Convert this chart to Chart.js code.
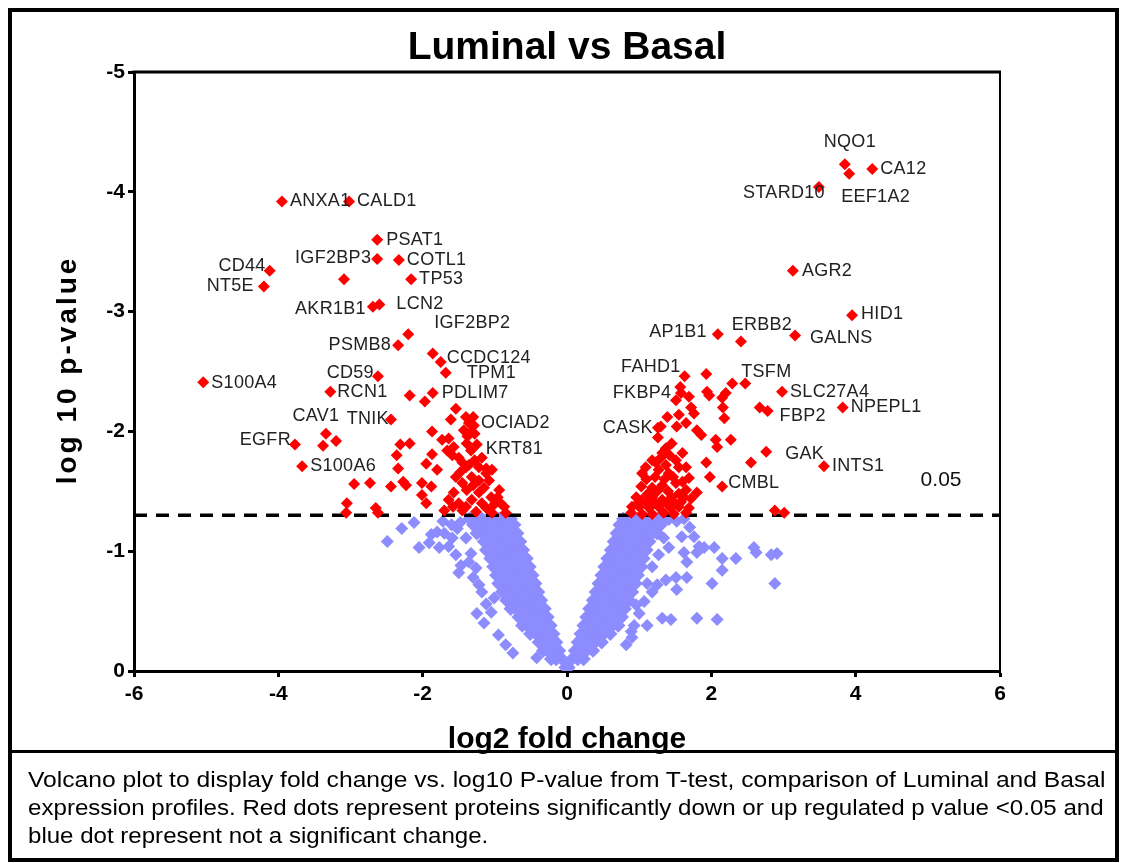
<!DOCTYPE html>
<html>
<head>
<meta charset="utf-8">
<script src="https://cdn.jsdelivr.net/npm/chart.js@4.4.1/dist/chart.umd.min.js"></script>
<style>
  html, body { margin:0; padding:0; background:#fff; }
  body { width:1123px; height:863px; position:relative; overflow:hidden; }
  #c { position:absolute; left:0; top:0; }
  #frame { position:absolute; left:8px; top:8px; width:1111px; height:854px; box-sizing:border-box; border:4px solid #000; pointer-events:none; z-index:3; }
  #sep { position:absolute; left:8px; top:750px; width:1111px; height:3px; background:#000; z-index:3; }
  .cap { position:absolute; left:28px; font-family:"Liberation Sans", Arial, sans-serif; font-size:22px; line-height:28px; color:#000; white-space:nowrap; z-index:4; transform-origin:0 0; }
</style>
</head>
<body>
<canvas id="c" width="1123" height="863"></canvas>
<div id="frame"></div>
<div id="sep"></div>
<div class="cap" style="top:766px; transform:scaleX(1.12);">Volcano plot to display fold change vs. log10 P-value from T-test, comparison of Luminal and Basal</div>
<div class="cap" style="top:794px; transform:scaleX(1.096);">expression profiles. Red dots represent proteins significantly down or up regulated p value &lt;0.05 and</div>
<div class="cap" style="top:822px; transform:scaleX(1.094);">blue dot represent not a significant change.</div>
<script>
// ---------------- DATA ----------------
const chartTitle = 'Luminal vs Basal';
const xTitle = 'log2 fold change';
const yTitle = 'log 10 p-value';
const xTicks = [-6, -4, -2, 0, 2, 4, 6];
const yTicks = [-5, -4, -3, -2, -1, 0];
const thresholdY = -1.3;
const thresholdText = '0.05';

// labelled significant proteins
const labelNames = ['ANXA1','CALD1','PSAT1','IGF2BP3','COTL1','TP53','CD44','NT5E','AKR1B1','LCN2','IGF2BP2','PSMB8','CCDC124','TPM1','CD59','S100A4','RCN1','PDLIM7','TNIK','CAV1','EGFR','S100A6','OCIAD2','KRT81',
  'NQO1','CA12','STARD10','EEF1A2','AGR2','HID1','GALNS','ERBB2','AP1B1','FAHD1','TSFM','FKBP4','SLC27A4','NPEPL1','FBP2','CASK','GAK','INTS1','CMBL'];
const labelX = [-3.95,-3.02,-2.63,-2.63,-2.33,-2.16,-4.12,-4.20,-2.69,-2.60,-2.20,-2.34,-1.75,-1.68,-2.62,-5.04,-3.28,-1.86,-2.44,-3.34,-3.77,-3.67,-1.29,-1.25,
  3.85,4.23,3.49,3.91,3.13,3.95,3.16,2.41,2.09,1.63,2.47,1.57,2.98,3.82,2.78,1.26,2.76,3.56,2.15];
const labelY = [-3.92,-3.92,-3.60,-3.44,-3.43,-3.27,-3.34,-3.21,-3.04,-3.06,-2.81,-2.72,-2.58,-2.49,-2.46,-2.41,-2.33,-2.32,-2.10,-1.98,-1.89,-1.71,-2.05,-1.89,
  -4.23,-4.19,-4.04,-4.15,-3.34,-2.97,-2.80,-2.75,-2.81,-2.46,-2.40,-2.37,-2.33,-2.20,-2.17,-2.03,-1.83,-1.71,-1.54];

// other significant (red) proteins, down-regulated side
const redDown = [[-3.09,-3.27],[-1.86,-2.65],[-2.18,-2.30],[-1.97,-2.25],[-1.54,-2.19],[-1.61,-2.10],[-1.40,-2.12],
  [-1.36,-2.07],[-1.43,-2.01],[-1.33,-1.99],[-1.30,-2.12],[-1.38,-1.96],[-1.28,-1.98],[-3.20,-1.92],[-3.38,-1.88],[-1.87,-2.00],
  [-2.31,-1.89],[-2.18,-1.90],[-2.36,-1.80],[-1.87,-1.81],[-1.73,-1.93],[-1.64,-1.94],[-1.57,-1.87],[-1.66,-1.84],[-1.59,-1.80],
  [-1.39,-1.90],[-1.33,-1.84],[-2.34,-1.69],[-1.95,-1.73],[-1.80,-1.68],[-1.40,-1.70],[-1.36,-1.72],[-1.22,-1.70],[-1.12,-1.69],
  [-2.95,-1.56],[-2.73,-1.57],[-2.44,-1.54],[-2.27,-1.58],[-2.23,-1.55],[-2.01,-1.57],[-1.88,-1.54],
  [-3.05,-1.40],[-3.06,-1.32],[-2.65,-1.36],[-2.62,-1.32],[-2.01,-1.47],[-1.95,-1.40],
  [-1.54,-1.62],[-1.45,-1.57],[-1.32,-1.62],[-1.22,-1.59],[-1.08,-1.59],[-1.57,-1.49],[-1.39,-1.51],[-1.22,-1.49],[-1.05,-1.45],
  [-1.64,-1.43],[-1.50,-1.40],[-1.32,-1.43],[-1.18,-1.40],[-1.01,-1.39],[-0.87,-1.37],
  [-1.70,-1.34],[-1.45,-1.34],[-1.26,-1.33],[-1.04,-1.32],[-0.85,-1.32],
  [-1.04,-1.68],[-0.94,-1.51],[-1.45,-1.74],[-1.12,-1.65],[-1.15,-1.53],[-1.30,-1.55],[-1.48,-1.66],[-0.96,-1.45],
  [-1.12,-1.36],[-1.40,-1.37],[-1.58,-1.37],[-0.92,-1.40],[-1.28,-1.76],[-1.18,-1.78],[-1.50,-1.78]];

// other significant (red) proteins, up-regulated side
const redUp = [[1.93,-2.48],[2.29,-2.40],[2.20,-2.32],[2.15,-2.28],[1.94,-2.33],[1.97,-2.30],
  [1.58,-2.32],[1.51,-2.26],[1.69,-2.29],[1.72,-2.20],[2.16,-2.20],[2.18,-2.11],
  [1.76,-2.15],[1.55,-2.14],[1.52,-2.04],[1.65,-2.07],[1.39,-2.12],[1.30,-2.04],[1.26,-1.95],
  [1.80,-2.01],[1.86,-1.97],[2.06,-1.93],[2.08,-1.87],[2.27,-1.93],[1.45,-1.90],[1.37,-1.86],[1.32,-1.82],
  [1.18,-1.76],[1.09,-1.70],[1.04,-1.65],[1.23,-1.74],[1.27,-1.68],[1.37,-1.72],[1.51,-1.76],[1.55,-1.70],[1.65,-1.70],[1.41,-1.65],
  [1.93,-1.74],[2.55,-1.74],[1.98,-1.62],[1.69,-1.61],[1.80,-1.49],
  [1.03,-1.54],[1.18,-1.53],[1.32,-1.55],[1.51,-1.57],[1.65,-1.51],
  [0.96,-1.45],[1.04,-1.43],[1.18,-1.45],[1.32,-1.43],[1.45,-1.45],[1.58,-1.41],[1.72,-1.44],
  [0.90,-1.37],[1.00,-1.37],[1.14,-1.36],[1.27,-1.37],[1.44,-1.36],[1.55,-1.37],[1.69,-1.36],
  [0.89,-1.32],[1.04,-1.31],[1.18,-1.31],[1.34,-1.32],[1.48,-1.31],[1.65,-1.32],
  [2.67,-2.20],[2.88,-1.34],[3.01,-1.32],
  [1.10,-1.60],[1.22,-1.62],[1.35,-1.60],[1.47,-1.62],[1.60,-1.58],[1.12,-1.48],[1.25,-1.50],[1.40,-1.50],[1.55,-1.48],
  [0.98,-1.40],[1.10,-1.41],[1.22,-1.40],[1.38,-1.40],[1.50,-1.40],[1.62,-1.45],[1.30,-1.78],[1.42,-1.80],[1.60,-1.82]];

// non-significant (blue) proteins: dense core of the left arm, read row by row [y, x, x, ...]
const blueLeftRows = [
  [-0.03, -0.02, 0.02],
  [-0.10, -0.07, -0.15, -0.22],
  [-0.17, -0.11, -0.19, -0.27, -0.33],
  [-0.24, -0.15, -0.23, -0.31, -0.39],
  [-0.31, -0.19, -0.27, -0.35, -0.43, -0.51],
  [-0.38, -0.23, -0.31, -0.39, -0.47, -0.55, -0.62],
  [-0.45, -0.27, -0.35, -0.43, -0.51, -0.59, -0.67],
  [-0.52, -0.31, -0.39, -0.47, -0.55, -0.63, -0.71, -0.78],
  [-0.59, -0.36, -0.44, -0.52, -0.60, -0.68, -0.76, -0.84],
  [-0.66, -0.40, -0.48, -0.56, -0.64, -0.72, -0.80, -0.90],
  [-0.73, -0.44, -0.52, -0.60, -0.68, -0.76, -0.84, -0.95],
  [-0.80, -0.48, -0.56, -0.64, -0.72, -0.80, -0.88, -0.98],
  [-0.87, -0.52, -0.60, -0.68, -0.76, -0.84, -0.92, -1.02],
  [-0.94, -0.56, -0.64, -0.72, -0.80, -0.88, -0.96, -1.06],
  [-1.01, -0.61, -0.69, -0.77, -0.85, -0.93, -1.01, -1.12],
  [-1.08, -0.65, -0.73, -0.81, -0.89, -0.97, -1.05, -1.15],
  [-1.15, -0.69, -0.77, -0.85, -0.93, -1.01, -1.09, -1.18, -1.25],
  [-1.22, -0.73, -0.81, -0.89, -0.97, -1.05, -1.13, -1.21, -1.30],
  [-1.27, -0.78, -0.86, -0.94, -1.02, -1.10, -1.18, -1.26, -1.35]
];
// dense core of the right arm
const blueRightRows = [
  [-0.10, 0.07, 0.15, 0.23],
  [-0.17, 0.11, 0.19, 0.27, 0.36],
  [-0.24, 0.15, 0.23, 0.31, 0.39, 0.48],
  [-0.31, 0.19, 0.27, 0.35, 0.43, 0.51, 0.60],
  [-0.38, 0.23, 0.31, 0.39, 0.47, 0.55, 0.63, 0.71],
  [-0.45, 0.27, 0.35, 0.43, 0.51, 0.59, 0.67, 0.76],
  [-0.52, 0.31, 0.39, 0.47, 0.55, 0.63, 0.71, 0.80],
  [-0.59, 0.36, 0.44, 0.52, 0.60, 0.68, 0.76, 0.86],
  [-0.66, 0.40, 0.48, 0.56, 0.64, 0.72, 0.80, 0.90],
  [-0.73, 0.44, 0.52, 0.60, 0.68, 0.76, 0.84, 0.95],
  [-0.80, 0.48, 0.56, 0.64, 0.72, 0.80, 0.88, 0.98],
  [-0.87, 0.52, 0.60, 0.68, 0.76, 0.84, 0.92, 1.03],
  [-0.94, 0.56, 0.64, 0.72, 0.80, 0.88, 0.96, 1.06],
  [-1.01, 0.61, 0.69, 0.77, 0.85, 0.93, 1.01, 1.10],
  [-1.08, 0.65, 0.73, 0.81, 0.89, 0.97, 1.05, 1.14],
  [-1.15, 0.69, 0.77, 0.85, 0.93, 1.01, 1.09, 1.18, 1.25],
  [-1.22, 0.73, 0.81, 0.89, 0.97, 1.05, 1.13, 1.21, 1.30],
  [-1.27, 0.78, 0.86, 0.94, 1.02, 1.10, 1.18, 1.26, 1.34, 1.41]
];
// scattered non-significant proteins outside the dense core
const blueScatter = [[-2.49,-1.08],[-2.29,-1.19],[-2.12,-1.24],[-2.05,-1.03],[-1.91,-1.07],[-1.88,-1.14],[-1.80,-1.16],[-1.77,-1.03],
  [-1.70,-1.15],[-1.64,-1.04],[-1.59,-1.11],[-1.54,-0.97],[-1.52,-1.19],[-1.40,-1.11],[-1.47,-0.88],[-1.36,-0.91],[-1.26,-0.86],
  [-1.22,-0.72],[-1.25,-0.48],[-1.15,-0.40],[-1.05,-0.49],[-1.01,-0.61],[-1.50,-0.82],[-0.42,-0.11],
  [-1.72,-1.25],[-1.60,-1.22],[-1.48,-1.24],[-1.33,-0.98],[-1.30,-0.78],[-1.18,-0.66],[-1.12,-0.56],[-0.95,-0.30],[-0.85,-0.22],[-0.75,-0.15],
  [1.76,-1.12],[1.83,-1.04],[1.80,-0.99],[2.04,-1.03],[2.15,-0.94],[2.15,-0.84],[2.34,-0.94],[2.59,-1.03],[2.62,-0.99],
  [2.83,-0.97],[2.91,-0.98],[2.88,-0.73],[2.01,-0.73],[1.66,-0.78],[1.52,-0.68],[1.51,-0.78],[1.32,-0.44],[1.44,-0.43],
  [1.80,-0.44],[2.08,-0.43],[1.11,-0.38],[1.00,-0.48],[1.18,-0.87],[1.27,-0.97],[1.34,-1.11],[1.41,-1.03],[1.59,-1.12],
  [1.62,-0.99],[1.66,-0.91],[1.11,-0.73],[1.18,-0.66],[1.25,-0.72],[1.37,-0.76],[0.89,-0.33],[0.90,-0.28],
  [1.52,-1.25],[1.62,-1.27],[1.70,-1.20],[1.07,-0.58],[0.96,-0.55],[0.82,-0.22],[0.93,-0.38],[1.90,-1.03]];

// ---------------- LABEL LAYOUT (style only) ----------------
// [align, dx(px), dy(px)] for each labelled protein
const labelLayout = [['left',8,0],['left',8,0],['left',9,0],['right',-6,-1],['left',8,0],['left',8,0],['right',-4,-5],['right',-10,0],
  ['right',-7,2],['left',17,0],['left',26,-11],['right',-7,0],['left',6,-4],['left',21,0],['right',-4,-3],['left',8,1],['left',7,0],
  ['left',9,0],['right',-2,0],['center',-10,-18],['right',-4,-5],['left',8,0],['left',7,-2],['left',9,4],
  ['center',5,-22],['left',8,0],['right',6,6],['left',-8,23],['left',9,0],['left',9,-1],['left',15,2],['center',21,-17],
  ['right',-11,-2],['right',-4,-9],['left',-4,-11],['right',-9,6],['left',8,0],['left',8,0],['left',12,5],['right',-5,0],
  ['left',19,2],['left',8,0],['left',6,-3]];

// ---------------- BUILD ----------------
const FONT = '"Liberation Sans", Arial, sans-serif';
const toPts = arr => arr.map(p => ({x: p[0], y: p[1]}));
const rowsToPts = rows => rows.flatMap(r => r.slice(1).map(x => ({x: x, y: r[0]})));
const labeledPts = labelNames.map((n, i) => ({x: labelX[i], y: labelY[i]}));
const redPts = labeledPts.concat(toPts(redDown), toPts(redUp));
const blueCorePts = rowsToPts(blueLeftRows).concat(rowsToPts(blueRightRows));
const blueScatterPts = toPts(blueScatter);

const framePlugin = {
  id: 'frame',
  afterDraw(chart) {
    const {ctx, chartArea: a} = chart;
    ctx.save();
    ctx.strokeStyle = '#000';
    ctx.lineWidth = 3;
    ctx.beginPath(); ctx.moveTo(a.left - 1.5, a.top); ctx.lineTo(a.right + 1, a.top); ctx.stroke();
    ctx.lineWidth = 2;
    ctx.beginPath(); ctx.moveTo(a.right, a.top); ctx.lineTo(a.right, a.bottom); ctx.stroke();
    // chart title, centred over the plot area
    ctx.fillStyle = '#000';
    ctx.font = 'bold 39px ' + FONT;
    ctx.textAlign = 'center';
    ctx.textBaseline = 'alphabetic';
    ctx.fillText(chartTitle, (a.left + a.right) / 2, 59);
    // y axis title
    ctx.save();
    ctx.translate(76, (a.top + a.bottom) / 2);
    ctx.rotate(-Math.PI / 2);
    ctx.font = 'bold 28px ' + FONT;
    try { ctx.letterSpacing = '3px'; } catch (e) {}
    ctx.fillText(yTitle, 1.5, 0);
    ctx.restore();
    ctx.restore();
  }
};

const labelPlugin = {
  id: 'pointLabels',
  afterDatasetsDraw(chart) {
    const {ctx, scales: {x, y}} = chart;
    ctx.save();
    ctx.font = '18px ' + FONT;
    ctx.fillStyle = '#222';
    ctx.textBaseline = 'middle';
    try { ctx.letterSpacing = '0.3px'; } catch (e) {}
    labelNames.forEach((name, i) => {
      const [al, dx, dy] = labelLayout[i];
      ctx.textAlign = al;
      ctx.fillText(name, x.getPixelForValue(labelX[i]) + dx, y.getPixelForValue(labelY[i]) + dy);
    });
    try { ctx.letterSpacing = '0px'; } catch (e) {}
    ctx.font = '21px ' + FONT;
    ctx.fillStyle = '#111';
    ctx.textAlign = 'left';
    ctx.fillText(thresholdText, x.getPixelForValue(4.9), y.getPixelForValue(-1.59));
    ctx.restore();
  }
};

new Chart(document.getElementById('c'), {
  type: 'scatter',
  data: {
    datasets: [
      { label: 'significant', data: redPts, pointStyle: 'rectRot', pointRadius: 6, pointHoverRadius: 6,
        backgroundColor: '#ff0000', borderWidth: 0 },
      { type: 'line', label: 'p = 0.05', data: [{x: -6, y: thresholdY}, {x: 6, y: thresholdY}],
        borderColor: '#000', borderWidth: 3.5, borderDash: [13, 9], pointRadius: 0, fill: false, showLine: true },
      { label: 'not significant (scattered)', data: blueScatterPts, pointStyle: 'rectRot', pointRadius: 6.5, pointHoverRadius: 6.5,
        backgroundColor: '#8c8cff', borderWidth: 0 },
      { label: 'not significant (core)', data: blueCorePts, pointStyle: 'rectRot', pointRadius: 7.2, pointHoverRadius: 7.2,
        backgroundColor: '#8c8cff', borderWidth: 0 }
    ]
  },
  options: {
    responsive: false,
    devicePixelRatio: 1,
    animation: false,
    events: [],
    layout: { padding: { left: 0, right: 123, top: 72, bottom: 105 } },
    plugins: {
      legend: { display: false },
      tooltip: { enabled: false },
      title: { display: false }
    },
    scales: {
      x: {
        type: 'linear', min: -6, max: 6,
        afterBuildTicks(s) { s.ticks = xTicks.map(v => ({value: v})); },
        afterFit(s) { s.height = 87; },
        ticks: { color: '#000', padding: 5, font: { family: FONT, size: 21, weight: 'bold' } },
        grid: { drawOnChartArea: false, drawTicks: true, tickLength: 6, tickWidth: 3, tickColor: '#000' },
        border: { display: true, color: '#000', width: 3 },
        title: { display: true, text: xTitle, color: '#000', font: { family: FONT, size: 30, weight: 'bold' }, padding: { top: 0, bottom: 0 } }
      },
      y: {
        type: 'linear', min: -5, max: 0, reverse: true,
        afterBuildTicks(s) { s.ticks = yTicks.map(v => ({value: v})); },
        afterFit(s) { s.width = 134; },
        ticks: { color: '#000', padding: 3, font: { family: FONT, size: 21, weight: 'bold' } },
        grid: { drawOnChartArea: false, drawTicks: true, tickLength: 6, tickWidth: 3, tickColor: '#000' },
        border: { display: true, color: '#000', width: 3 },
        title: { display: false }
      }
    }
  },
  plugins: [framePlugin, labelPlugin]
});
</script>
</body>
</html>
